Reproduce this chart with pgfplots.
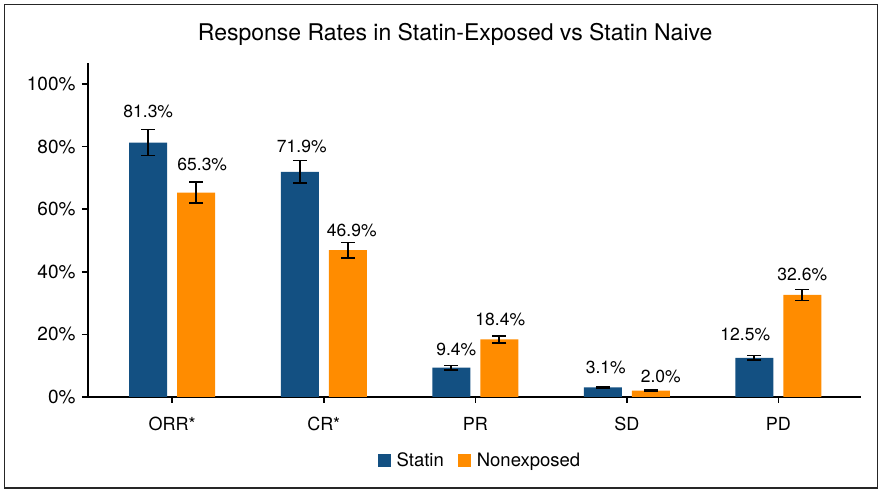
\documentclass[border=0pt]{standalone}
\usepackage{pgfplots}
\pgfplotsset{compat=1.18}
\usepackage{pgfplotstable}
\usepackage{fontspec}
\setmainfont{TeX Gyre Heros}
\definecolor{statin}{RGB}{19,80,130}
\definecolor{nonexp}{RGB}{255,140,0}

\pgfplotstableread{
x y err dy dx
0 81.3 4.1 31 0
1 71.9 3.6 25 2
2 9.4 0.7 18 5
3 3.1 0.3 20 3
4 12.5 0.7 23 -9
}\statintab
\pgfplotstableread{
x y err dy dx
0 65.3 3.3 28 6
1 46.9 2.4 20 4
2 18.4 1.1 20 1
3 2.0 0.3 14 10
4 32.6 1.8 20 0
}\nonexptab

\newcommand{\lblfont}{\fontsize{17.5}{20}\selectfont}
\newcommand{\tickfont}{\fontsize{19}{22}\selectfont}
\newcommand{\catfont}{\fontsize{18}{21}\selectfont}
\newcommand{\legfont}{\fontsize{18.5}{21}\selectfont}

\begin{document}
\begin{tikzpicture}
\useasboundingbox (0,0) rectangle (882pt,492pt);
\draw[line width=1.5pt, black!85] (4.5pt,4pt) rectangle (877.5pt,487.5pt);
\begin{axis}[
  at={(88pt,95pt)}, anchor=south west,
  scale only axis, width=773pt, height=334pt,
  xmin=-0.556, xmax=4.546, ymin=0, ymax=106.7,
  axis x line=bottom, axis y line=left,
  axis line style={-, line width=1.5pt, black},
  tick align=outside, major tick length=6pt,
  tick style={line width=1.5pt, black},
  ytick={0,20,40,60,80,100},
  yticklabel={\pgfmathprintnumber[assume math mode=true]{\tick}\%},
  yticklabel style={font=\tickfont, xshift=-3pt},
  xtick={0,1,2,3,4},
  xticklabels={ORR*,CR*,PR,SD,PD},
  xticklabel style={font=\catfont, yshift=-11pt},
  ybar=10pt, bar width=38pt,
  clip=false,
  title={Response Rates in Statin-Exposed vs Statin Naive},
  title style={font=\fontsize{23}{27}\selectfont, at={(0.475,1.069)}, anchor=center},
  legend style={at={(0.507,-0.189)}, anchor=center, draw=none, legend columns=2,
    font=\legfont,
    /tikz/every odd column/.append style={column sep=4pt},
    /tikz/every even column/.append style={column sep=12pt}},
  legend image code/.code={\draw[#1,draw=none] (0pt,-6.5pt) rectangle (13pt,6.5pt);},
  error bars/y dir=both, error bars/y explicit,
  error bars/error bar style={line width=1.6pt, black},
  error bars/error mark options={line width=1.6pt, black, mark size=7pt, rotate=90},
]
\addplot[fill=statin, draw=none,
  nodes near coords={\pgfmathprintnumber[fixed,fixed zerofill,precision=1,assume math mode=true]{\pgfplotspointmeta}\%},
  point meta=y,
  visualization depends on={\thisrow{dy} \as \labdy},
  visualization depends on={\thisrow{dx} \as \labdx},
  every node near coord/.append style={font=\lblfont, black, anchor=center, yshift=\labdy, xshift=\labdx},
  ] table[x=x, y=y, y error=err] {\statintab};
\addplot[fill=nonexp, draw=none,
  nodes near coords={\pgfmathprintnumber[fixed,fixed zerofill,precision=1,assume math mode=true]{\pgfplotspointmeta}\%},
  point meta=y,
  visualization depends on={\thisrow{dy} \as \labdy},
  visualization depends on={\thisrow{dx} \as \labdx},
  every node near coord/.append style={font=\lblfont, black, anchor=center, yshift=\labdy, xshift=\labdx},
  ] table[x=x, y=y, y error=err] {\nonexptab};
\legend{Statin, Nonexposed}
\end{axis}
\end{tikzpicture}
\end{document}
